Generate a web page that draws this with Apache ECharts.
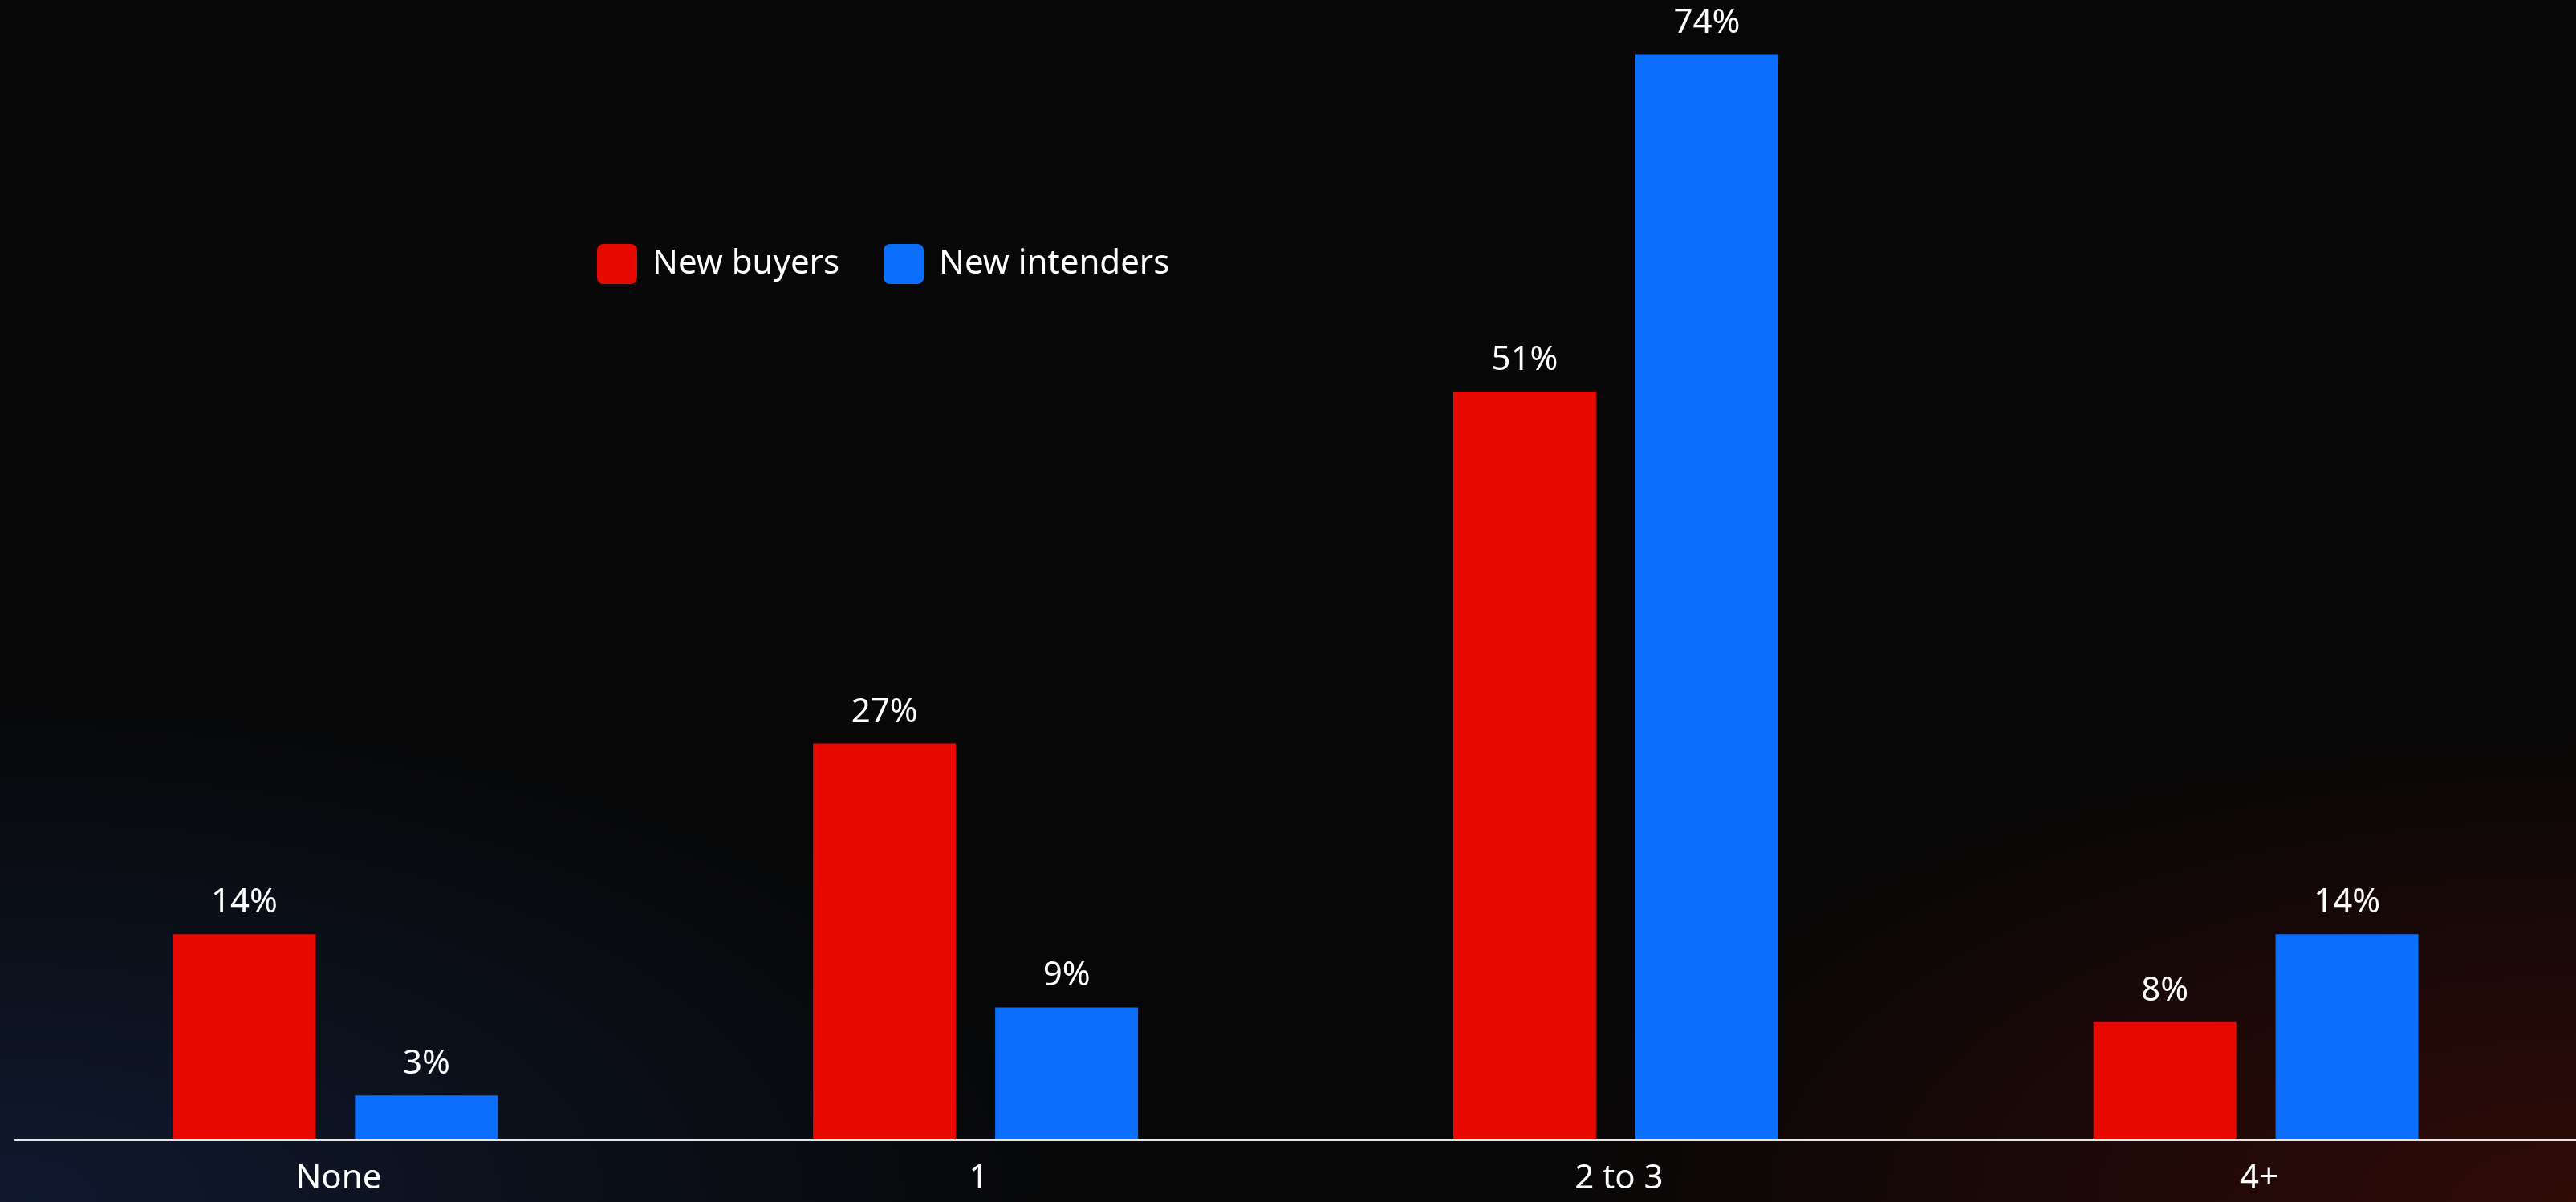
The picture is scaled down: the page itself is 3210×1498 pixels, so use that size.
<!DOCTYPE html>
<html>
<head>
<meta charset="utf-8">
<title>Vehicles considered: new buyers vs new intenders</title>
<script src="https://cdn.jsdelivr.net/npm/echarts@6/dist/echarts.min.js"></script>
<style>
  html, body { margin: 0; padding: 0; width: 3210px; height: 1498px; overflow: hidden; }
  body {
    background:
      radial-gradient(ellipse 1900px 900px at 0% 100%, rgba(18, 30, 58, 0.78), rgba(18, 30, 58, 0) 72%),
      radial-gradient(ellipse 1800px 850px at 100% 100%, rgba(58, 12, 8, 0.8), rgba(58, 12, 8, 0) 72%),
      #070707;
  }
  #chart { width: 3210px; height: 1498px; }
</style>
</head>
<body>
<div id="chart"></div>
<script>
// Categories and series values (percent)
const categories = ['None', '1', '2 to 3', '4+'];
const newBuyers = [14, 27, 51, 8];
const newIntenders = [3, 9, 74, 14];
const seriesNames = ['New buyers', 'New intenders'];

const RED = '#e80a00';
const BLUE = '#0b6ffb';
const FONT = '"Noto Sans", "Open Sans", sans-serif';

const chart = echarts.init(document.getElementById('chart'), null, { renderer: 'canvas' });

const labelStyle = {
  show: true,
  position: 'top',
  distance: 18,
  color: '#ffffff',
  fontFamily: FONT,
  fontSize: 42,
  formatter: p => p.value + '%'
};

const legendIcon = 'path://M8,0 H42 A8,8 0 0 1 50,8 V42 A8,8 0 0 1 42,50 H8 A8,8 0 0 1 0,42 V8 A8,8 0 0 1 8,0 Z';

chart.setOption({
  backgroundColor: 'transparent',
  animation: false,
  legend: {
    left: 739,
    top: 299,
    itemWidth: 50,
    itemHeight: 50,
    itemGap: 55,
    icon: legendIcon,
    data: seriesNames,
    textStyle: {
      color: '#ffffff',
      fontFamily: FONT,
      fontSize: 42,
      padding: [0, 0, 0, 14]
    }
  },
  grid: {
    left: 19,
    top: 0,
    width: 3200,
    height: 1420,
    containLabel: false
  },
  xAxis: {
    type: 'category',
    data: categories,
    axisLine: { show: true, lineStyle: { color: '#e6e6e6', width: 3 } },
    axisTick: { show: false },
    axisLabel: {
      color: '#ffffff',
      fontFamily: FONT,
      fontSize: 42,
      margin: 28,
      padding: [0, 0, 0, 8]
    }
  },
  yAxis: {
    type: 'value',
    min: 0,
    max: 77.7,
    show: false,
    splitLine: { show: false }
  },
  series: [
    {
      name: seriesNames[0],
      type: 'bar',
      data: newBuyers,
      barWidth: 178,
      barGap: '27.5%',
      itemStyle: { color: RED },
      label: labelStyle
    },
    {
      name: seriesNames[1],
      type: 'bar',
      data: newIntenders,
      barWidth: 178,
      barGap: '27.5%',
      itemStyle: { color: BLUE },
      label: labelStyle
    }
  ]
});
</script>
</body>
</html>
